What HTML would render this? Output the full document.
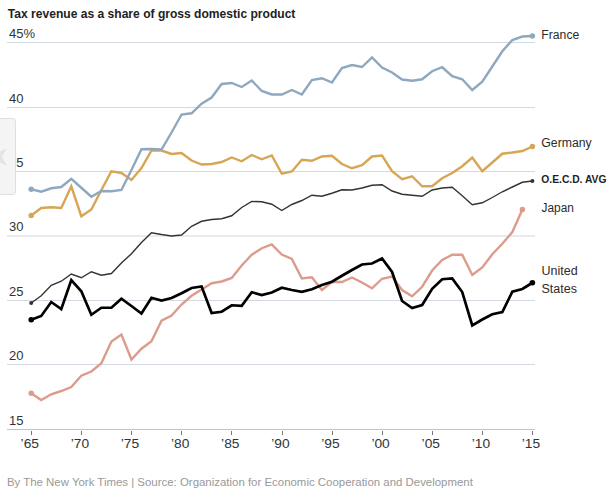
<!DOCTYPE html>
<html lang="en"><head><meta charset="utf-8"><title>Tax revenue as a share of gross domestic product</title>
<style>
html,body{margin:0;padding:0;background:#fff;}
body{width:612px;height:492px;overflow:hidden;position:relative;font-family:"Liberation Sans",Arial,sans-serif;}
svg{position:absolute;left:0;top:0;display:block;}
svg text{font-family:"Liberation Sans",Arial,sans-serif;}
.ttl{font-size:13px;font-weight:bold;fill:#222;}
.ax{font-size:13px;fill:#333;}
.lb{font-size:12.5px;fill:#2b2b2b;}
.lbb{font-size:10.5px;font-weight:bold;fill:#222;}
.src{font-size:11.5px;fill:#999;}
</style></head><body>
<svg width="612" height="492" viewBox="0 0 612 492">
<text x="7.8" y="18.2" class="ttl" textLength="287.6" lengthAdjust="spacingAndGlyphs">Tax revenue as a share of gross domestic product</text>
<g shape-rendering="crispEdges"><rect x="7" y="42" width="528" height="1" fill="#d2d9e1"/><rect x="7" y="107" width="528" height="1" fill="#d2d9e1"/><rect x="7" y="171" width="528" height="1" fill="#d2d9e1"/><rect x="7" y="300" width="528" height="1" fill="#d2d9e1"/><rect x="7" y="364" width="528" height="1" fill="#d2d9e1"/><rect x="7" y="429" width="528" height="1" fill="#bcc6d0"/><rect x="31" y="431" width="1" height="4" fill="#777"/><rect x="81" y="431" width="1" height="4" fill="#777"/><rect x="131" y="431" width="1" height="4" fill="#777"/><rect x="181" y="431" width="1" height="4" fill="#777"/><rect x="231" y="431" width="1" height="4" fill="#777"/><rect x="282" y="431" width="1" height="4" fill="#777"/><rect x="332" y="431" width="1" height="4" fill="#777"/><rect x="382" y="431" width="1" height="4" fill="#777"/><rect x="432" y="431" width="1" height="4" fill="#777"/><rect x="482" y="431" width="1" height="4" fill="#777"/><rect x="532" y="431" width="1" height="4" fill="#777"/></g><rect x="7" y="235.5" width="528" height="1" fill="#d2d9e1"/>
<text x="9" y="37.7" class="ax">45%</text><text x="9" y="102.7" class="ax">40</text><text x="9" y="166.7" class="ax">35</text><text x="9" y="230.7" class="ax">30</text><text x="9" y="295.7" class="ax">25</text><text x="9" y="359.7" class="ax">20</text><text x="9" y="424.7" class="ax">15</text>
<text x="29.8" y="447.8" class="ax" text-anchor="middle" textLength="18.4" lengthAdjust="spacingAndGlyphs">’65</text><text x="79.9" y="447.8" class="ax" text-anchor="middle" textLength="18.4" lengthAdjust="spacingAndGlyphs">’70</text><text x="130.0" y="447.8" class="ax" text-anchor="middle" textLength="18.4" lengthAdjust="spacingAndGlyphs">’75</text><text x="180.2" y="447.8" class="ax" text-anchor="middle" textLength="18.4" lengthAdjust="spacingAndGlyphs">’80</text><text x="230.3" y="447.8" class="ax" text-anchor="middle" textLength="18.4" lengthAdjust="spacingAndGlyphs">’85</text><text x="280.4" y="447.8" class="ax" text-anchor="middle" textLength="18.4" lengthAdjust="spacingAndGlyphs">’90</text><text x="330.5" y="447.8" class="ax" text-anchor="middle" textLength="18.4" lengthAdjust="spacingAndGlyphs">’95</text><text x="380.6" y="447.8" class="ax" text-anchor="middle" textLength="18.4" lengthAdjust="spacingAndGlyphs">’00</text><text x="430.8" y="447.8" class="ax" text-anchor="middle" textLength="18.4" lengthAdjust="spacingAndGlyphs">’05</text><text x="480.9" y="447.8" class="ax" text-anchor="middle" textLength="18.4" lengthAdjust="spacingAndGlyphs">’10</text><text x="531.0" y="447.8" class="ax" text-anchor="middle" textLength="18.4" lengthAdjust="spacingAndGlyphs">’15</text>
<polyline points="31.20,393.25 41.22,400.00 51.25,394.25 61.27,391.00 71.30,387.00 81.32,375.75 91.34,371.50 101.37,363.25 111.39,341.50 121.42,334.50 131.44,359.50 141.46,348.75 151.49,341.25 161.51,320.75 171.54,315.50 181.56,304.50 191.58,295.75 201.61,289.50 211.63,283.25 221.66,281.50 231.68,278.00 241.70,265.50 251.73,254.75 261.75,248.25 271.78,244.50 281.80,254.50 291.82,259.00 301.85,278.50 311.87,277.25 321.90,290.00 331.92,282.00 341.94,282.00 351.97,277.50 361.99,282.50 372.02,288.25 382.04,278.75 392.06,276.50 402.09,290.00 412.11,296.25 422.14,286.75 432.16,270.50 442.18,260.00 452.21,254.75 462.23,254.75 472.26,275.00 482.28,267.50 492.30,254.25 502.33,243.75 512.35,232.00 522.38,209.50" fill="none" stroke="#dc9b8c" stroke-width="2.4" stroke-linejoin="miter" stroke-linecap="round"/><circle cx="31.20" cy="393.25" r="2.75" fill="#dc9b8c"/><circle cx="522.38" cy="209.50" r="2.75" fill="#dc9b8c"/><polyline points="31.20,215.50 41.22,208.00 51.25,207.25 61.27,208.00 71.30,186.25 81.32,216.25 91.34,209.50 101.37,190.00 111.39,171.25 121.42,173.00 131.44,180.00 141.46,168.00 151.49,150.50 161.51,150.50 171.54,154.00 181.56,153.00 191.58,160.50 201.61,164.50 211.63,164.00 221.66,162.00 231.68,157.50 241.70,161.25 251.73,155.00 261.75,159.25 271.78,155.50 281.80,173.75 291.82,171.50 301.85,159.75 311.87,160.75 321.90,156.50 331.92,155.75 341.94,164.00 351.97,168.25 361.99,165.25 372.02,156.50 382.04,155.50 392.06,171.25 402.09,179.25 412.11,176.25 422.14,186.25 432.16,186.25 442.18,178.25 452.21,173.00 462.23,166.25 472.26,157.50 482.28,171.25 492.30,162.50 502.33,153.75 512.35,152.50 522.38,151.00 532.40,146.50" fill="none" stroke="#d6a655" stroke-width="2.4" stroke-linejoin="miter" stroke-linecap="round"/><circle cx="31.20" cy="215.50" r="2.75" fill="#d6a655"/><circle cx="532.40" cy="146.50" r="2.75" fill="#d6a655"/><polyline points="31.20,189.25 41.22,191.75 51.25,188.25 61.27,187.00 71.30,178.75 81.32,187.75 91.34,196.75 101.37,191.00 111.39,191.25 121.42,190.00 131.44,170.00 141.46,149.25 151.49,149.00 161.51,149.50 171.54,132.50 181.56,114.50 191.58,113.25 201.61,103.75 211.63,97.50 221.66,84.00 231.68,83.00 241.70,87.00 251.73,80.50 261.75,91.00 271.78,94.50 281.80,94.50 291.82,90.00 301.85,94.50 311.87,80.00 321.90,78.25 331.92,82.50 341.94,68.00 351.97,65.00 361.99,67.00 372.02,57.50 382.04,67.50 392.06,72.50 402.09,79.50 412.11,80.75 422.14,79.25 432.16,71.25 442.18,67.25 452.21,76.25 462.23,79.25 472.26,90.00 482.28,81.75 492.30,66.50 502.33,51.25 512.35,40.00 522.38,36.50 532.40,36.00" fill="none" stroke="#8ea8c0" stroke-width="2.4" stroke-linejoin="miter" stroke-linecap="round"/><circle cx="31.20" cy="189.25" r="2.7" fill="#8ea8c0"/><circle cx="532.40" cy="36.00" r="2.7" fill="#8ea8c0"/><polyline points="31.20,303.00 41.22,295.75 51.25,285.25 61.27,281.25 71.30,274.00 81.32,277.75 91.34,271.75 101.37,275.25 111.39,273.50 121.42,263.00 131.44,253.75 141.46,242.50 151.49,232.75 161.51,234.50 171.54,236.00 181.56,235.00 191.58,226.25 201.61,221.25 211.63,219.50 221.66,218.75 231.68,215.75 241.70,207.50 251.73,201.50 261.75,201.75 271.78,204.25 281.80,210.50 291.82,204.50 301.85,200.50 311.87,195.25 321.90,196.25 331.92,193.25 341.94,189.75 351.97,190.00 361.99,188.00 372.02,185.25 382.04,184.75 392.06,191.00 402.09,194.25 412.11,195.25 422.14,196.25 432.16,190.00 442.18,188.00 452.21,187.25 462.23,195.75 472.26,204.75 482.28,202.75 492.30,197.50 502.33,191.75 512.35,187.00 522.38,182.25 532.40,181.00" fill="none" stroke="#333333" stroke-width="1.4" stroke-linejoin="miter" stroke-linecap="round"/><circle cx="31.20" cy="303.00" r="2" fill="#333333"/><circle cx="532.40" cy="181.00" r="2" fill="#333333"/><polyline points="31.20,319.75 41.22,316.00 51.25,302.00 61.27,309.00 71.30,280.00 81.32,291.25 91.34,314.75 101.37,307.75 111.39,307.75 121.42,298.75 131.44,306.00 141.46,313.50 151.49,297.75 161.51,300.50 171.54,298.00 181.56,293.25 191.58,288.00 201.61,286.50 211.63,313.00 221.66,311.75 231.68,305.25 241.70,305.75 251.73,292.25 261.75,295.00 271.78,292.50 281.80,287.75 291.82,290.00 301.85,291.75 311.87,289.25 321.90,285.00 331.92,281.75 341.94,275.75 351.97,270.00 361.99,264.50 372.02,263.50 382.04,258.50 392.06,272.00 402.09,301.00 412.11,308.00 422.14,305.00 432.16,288.75 442.18,279.25 452.21,278.50 462.23,292.00 472.26,325.50 482.28,319.50 492.30,314.25 502.33,312.00 512.35,291.75 522.38,289.00 532.40,282.75" fill="none" stroke="#000000" stroke-width="2.7" stroke-linejoin="miter" stroke-linecap="round"/><circle cx="31.20" cy="319.75" r="2.8" fill="#000000"/><circle cx="532.40" cy="282.75" r="2.8" fill="#000000"/>
<text x="541.3" y="38.8" class="lb" textLength="38" lengthAdjust="spacingAndGlyphs">France</text><text x="541.3" y="146.9" class="lb" textLength="50.4" lengthAdjust="spacingAndGlyphs">Germany</text><text x="541.3" y="182.7" class="lbb" textLength="65.2" lengthAdjust="spacingAndGlyphs">O.E.C.D. AVG</text><text x="541.6" y="211.8" class="lb" textLength="32.3" lengthAdjust="spacingAndGlyphs">Japan</text><text x="541.5" y="274.8" class="lb">United</text><text x="541.5" y="292.8" class="lb">States</text>
<g>
<path d="M-1 118.5H12.5a3 3 0 0 1 3 3V191.5a3 3 0 0 1-3 3H-1Z" fill="#f4f4f4" stroke="#dfdfdf" stroke-width="1"/>
<polygon points="-12,157 6.9,148.2 1.9,157 6.9,165.7" fill="#e4e4e4"/>
</g>
<text x="6.9" y="486.1" class="src" textLength="466" lengthAdjust="spacingAndGlyphs">By The New York Times | Source: Organization for Economic Cooperation and Development</text>
</svg>
</body></html>
